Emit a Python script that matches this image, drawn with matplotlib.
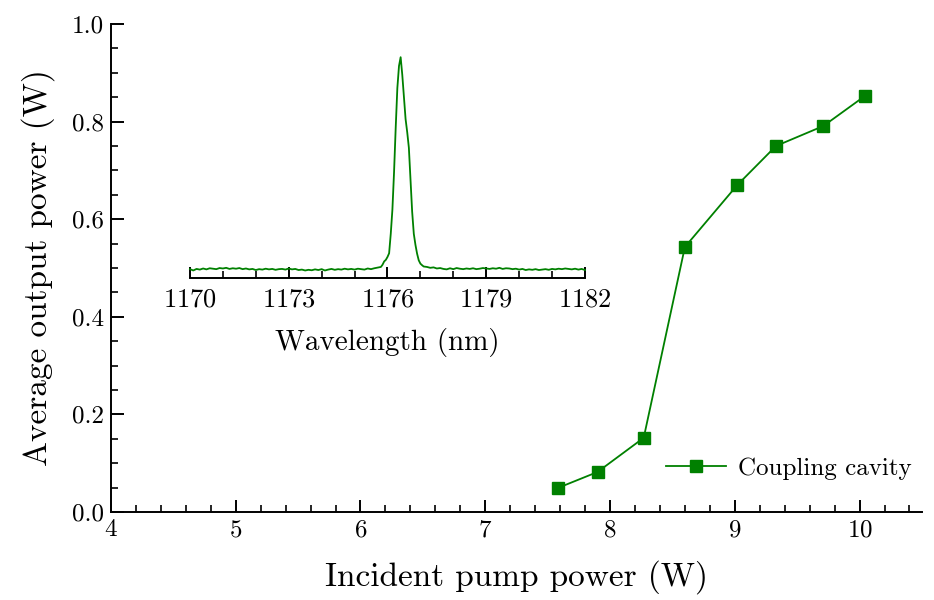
import numpy as np
import matplotlib.pyplot as plt
from matplotlib.ticker import MultipleLocator

# --data--
pump_power = [7.58, 7.90, 8.27, 8.60, 9.02, 9.33, 9.71, 10.04]
output_power = [0.049, 0.082, 0.152, 0.543, 0.670, 0.750, 0.791, 0.852]

# inset spectrum (normalised, read by eye)
wl_left = [1170.0, 1170.1, 1170.2, 1170.3, 1170.4, 1170.5, 1170.6, 1170.7, 1170.8, 1170.9,
           1171.0, 1171.1, 1171.2, 1171.3, 1171.4, 1171.5, 1171.6, 1171.7, 1171.8, 1171.9,
           1172.0, 1172.1, 1172.2, 1172.3, 1172.4, 1172.5, 1172.6, 1172.7, 1172.8, 1172.9,
           1173.0, 1173.1, 1173.2, 1173.3, 1173.4, 1173.5, 1173.6, 1173.7, 1173.8, 1173.9,
           1174.0, 1174.1, 1174.2, 1174.3, 1174.4, 1174.5, 1174.6, 1174.7, 1174.8, 1174.9,
           1175.0, 1175.1, 1175.2, 1175.3, 1175.4, 1175.5, 1175.6, 1175.7]
int_left = [0.040, 0.034, 0.041, 0.038, 0.043, 0.039, 0.044, 0.042, 0.040, 0.045,
            0.043, 0.046, 0.041, 0.044, 0.042, 0.045, 0.040, 0.043, 0.039, 0.041,
            0.036, 0.040, 0.038, 0.042, 0.039, 0.041, 0.037, 0.040, 0.041, 0.038,
            0.043, 0.039, 0.041, 0.036, 0.038, 0.034, 0.037, 0.035, 0.039, 0.036,
            0.040, 0.034, 0.038, 0.041, 0.037, 0.040, 0.038, 0.042, 0.039, 0.041,
            0.038, 0.042, 0.040, 0.038, 0.043, 0.040, 0.044, 0.047]
wl_peak = [1175.80, 1175.85, 1175.90, 1175.95, 1176.00, 1176.05, 1176.10, 1176.15, 1176.20,
           1176.25, 1176.30, 1176.35, 1176.40, 1176.45, 1176.50, 1176.55, 1176.60, 1176.65,
           1176.70, 1176.75, 1176.80, 1176.85, 1176.90, 1176.95, 1177.00, 1177.05, 1177.10]
int_peak = [0.050, 0.060, 0.075, 0.082, 0.095, 0.112, 0.200, 0.310, 0.480,
            0.680, 0.860, 0.960, 1.000, 0.920, 0.820, 0.720, 0.660, 0.590,
            0.440, 0.300, 0.200, 0.150, 0.110, 0.080, 0.065, 0.058, 0.052]
wl_right = [1177.2, 1177.3, 1177.4, 1177.5, 1177.6, 1177.7, 1177.8, 1177.9, 1178.0, 1178.1,
            1178.2, 1178.3, 1178.4, 1178.5, 1178.6, 1178.7, 1178.8, 1178.9, 1179.0, 1179.1,
            1179.2, 1179.3, 1179.4, 1179.5, 1179.6, 1179.7, 1179.8, 1179.9, 1180.0, 1180.1,
            1180.2, 1180.3, 1180.4, 1180.5, 1180.6, 1180.7, 1180.8, 1180.9, 1181.0, 1181.1,
            1181.2, 1181.3, 1181.4, 1181.5, 1181.6, 1181.7, 1181.8, 1181.9, 1182.0]
int_right = [0.050, 0.046, 0.048, 0.043, 0.045, 0.041, 0.039, 0.044, 0.040, 0.045,
             0.042, 0.040, 0.043, 0.041, 0.044, 0.040, 0.042, 0.045, 0.043, 0.041,
             0.044, 0.042, 0.046, 0.041, 0.044, 0.043, 0.040, 0.042, 0.038, 0.041,
             0.036, 0.039, 0.037, 0.040, 0.036, 0.038, 0.040, 0.037, 0.041, 0.039,
             0.042, 0.040, 0.043, 0.041, 0.039, 0.042, 0.038, 0.041, 0.036]

wavelength = wl_left + wl_peak + wl_right
intensity = int_left + int_peak + int_right

green = '#008000'

plt.rcParams['font.family'] = ['cmr10', 'DejaVu Serif']
plt.rcParams['mathtext.fontset'] = 'cm'
plt.rcParams['axes.formatter.use_mathtext'] = True

fig = plt.figure(figsize=(9.34, 6.0), dpi=100)
ax = fig.add_axes([0.1188, 0.1467, 0.8683, 0.8133])

ax.plot(pump_power, output_power, color=green, lw=1.3, marker='s', ms=8.5,
        label='Coupling cavity')
ax.set_xlim(4, 10.5)
ax.set_ylim(0, 1.0)
ax.xaxis.set_major_locator(MultipleLocator(1))
ax.xaxis.set_minor_locator(MultipleLocator(0.2))
ax.yaxis.set_major_locator(MultipleLocator(0.2))
ax.yaxis.set_minor_locator(MultipleLocator(0.05))
ax.yaxis.set_major_formatter(plt.FormatStrFormatter('%.1f'))
for s in ['top', 'right']:
    ax.spines[s].set_visible(False)
for s in ['left', 'bottom']:
    ax.spines[s].set_linewidth(1.4)
ax.tick_params(which='major', direction='in', length=9, width=1.4, labelsize=18, pad=5)
ax.tick_params(which='minor', direction='in', length=5, width=1.2)
ax.set_xlabel('Incident pump power (W)', fontsize=24, labelpad=14)
ax.set_ylabel('Average output power (W)', fontsize=24, labelpad=12)
ax.legend(loc='lower right', frameon=False, fontsize=18, handlelength=2.4,
          handletextpad=0.5, borderaxespad=0.0, bbox_to_anchor=(1.0, 0.045))

# inset spectrum
ins = fig.add_axes([0.2034, 0.5367, 0.4229, 0.368])
ins.plot(wavelength, intensity, color=green, lw=1.3, clip_on=False)
ins.set_xlim(1170, 1182)
ins.set_ylim(0, 1.0)
ins.set_xticks([1170, 1173, 1176, 1179, 1182])
ins.xaxis.set_minor_locator(MultipleLocator(1))
ins.set_yticks([])
ins.patch.set_alpha(0)
for s in ['top', 'right', 'left']:
    ins.spines[s].set_visible(False)
ins.spines['bottom'].set_linewidth(1.4)
ins.tick_params(which='major', direction='in', length=8, width=1.4, labelsize=19, pad=7)
ins.tick_params(which='minor', direction='in', length=5, width=1.2)
ins.set_xlabel('Wavelength (nm)', fontsize=21, labelpad=12)

fig.savefig('out.png', dpi=100)
